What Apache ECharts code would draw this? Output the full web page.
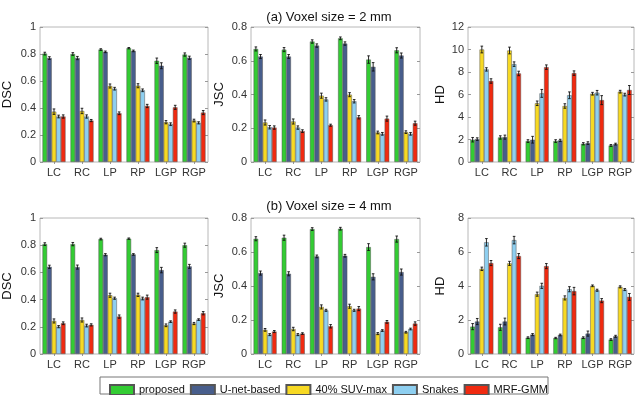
<!DOCTYPE html>
<html>
<head>
<meta charset="utf-8">
<script src="https://cdn.jsdelivr.net/npm/echarts@6/dist/echarts.min.js"></script>
<style>
  html, body { margin: 0; padding: 0; background: #fff; }
  #chart { width: 640px; height: 395px; }
</style>
</head>
<body>
<div id="chart"></div>
<script>
// categories and methods
const categories = ['LC', 'RC', 'LP', 'RP', 'LGP', 'RGP']
const methods = ['proposed', 'U-net-based', '40% SUV-max', 'Snakes', 'MRF-GMM']
const colors = ['#33cc33', '#485e8c', '#f7d923', '#8ecff0', '#f02a10']

// (a) voxel size 2 mm — rows follow methods order
const dsc2mm = [
  [0.803, 0.800, 0.833, 0.843, 0.750, 0.796],
  [0.770, 0.770, 0.816, 0.823, 0.713, 0.772],
  [0.373, 0.378, 0.563, 0.565, 0.295, 0.307],
  [0.337, 0.337, 0.543, 0.531, 0.280, 0.290],
  [0.337, 0.307, 0.361, 0.415, 0.405, 0.366]
]
const dsc2mmErr = [
  [0.010, 0.010, 0.006, 0.005, 0.020, 0.012],
  [0.010, 0.012, 0.006, 0.006, 0.022, 0.012],
  [0.020, 0.020, 0.015, 0.015, 0.012, 0.010],
  [0.010, 0.012, 0.010, 0.010, 0.010, 0.008],
  [0.012, 0.008, 0.010, 0.012, 0.015, 0.015]
]
const jsc2mm = [
  [0.670, 0.666, 0.714, 0.733, 0.607, 0.662],
  [0.625, 0.625, 0.690, 0.702, 0.564, 0.631],
  [0.234, 0.240, 0.393, 0.399, 0.175, 0.177],
  [0.206, 0.204, 0.371, 0.360, 0.167, 0.167],
  [0.204, 0.183, 0.218, 0.265, 0.257, 0.230]
]
const jsc2mmErr = [
  [0.012, 0.012, 0.010, 0.008, 0.022, 0.015],
  [0.012, 0.012, 0.010, 0.010, 0.025, 0.015],
  [0.015, 0.015, 0.015, 0.012, 0.008, 0.008],
  [0.010, 0.010, 0.010, 0.010, 0.008, 0.008],
  [0.010, 0.008, 0.006, 0.010, 0.015, 0.012]
]
const hd2mm = [
  [1.98, 2.18, 1.86, 1.86, 1.62, 1.47],
  [2.03, 2.21, 1.98, 1.92, 1.68, 1.59],
  [10.0, 9.91, 5.22, 4.98, 6.07, 6.25],
  [8.23, 8.70, 6.10, 5.93, 6.16, 5.99],
  [7.20, 7.87, 8.43, 7.90, 5.50, 6.40]
]
const hd2mmErr = [
  [0.20, 0.15, 0.12, 0.12, 0.10, 0.08],
  [0.12, 0.18, 0.30, 0.10, 0.12, 0.08],
  [0.30, 0.30, 0.20, 0.20, 0.12, 0.12],
  [0.15, 0.20, 0.35, 0.30, 0.20, 0.12],
  [0.20, 0.20, 0.20, 0.20, 0.40, 0.40]
]

// (b) voxel size 4 mm
const dsc4mm = [
  [0.808, 0.808, 0.845, 0.848, 0.764, 0.800],
  [0.641, 0.639, 0.730, 0.732, 0.617, 0.644],
  [0.243, 0.250, 0.432, 0.435, 0.211, 0.224],
  [0.201, 0.209, 0.410, 0.408, 0.238, 0.253],
  [0.226, 0.214, 0.275, 0.418, 0.312, 0.300]
]
const dsc4mmErr = [
  [0.010, 0.012, 0.006, 0.005, 0.018, 0.015],
  [0.012, 0.015, 0.008, 0.006, 0.020, 0.015],
  [0.015, 0.015, 0.015, 0.012, 0.010, 0.008],
  [0.008, 0.010, 0.008, 0.010, 0.006, 0.006],
  [0.010, 0.008, 0.012, 0.015, 0.012, 0.012]
]
const jsc4mm = [
  [0.678, 0.684, 0.735, 0.737, 0.629, 0.676],
  [0.476, 0.472, 0.574, 0.578, 0.454, 0.482],
  [0.142, 0.147, 0.277, 0.281, 0.120, 0.128],
  [0.114, 0.114, 0.257, 0.257, 0.138, 0.147],
  [0.132, 0.120, 0.163, 0.267, 0.189, 0.179]
]
const jsc4mmErr = [
  [0.012, 0.015, 0.008, 0.008, 0.020, 0.018],
  [0.012, 0.012, 0.008, 0.008, 0.018, 0.018],
  [0.008, 0.010, 0.012, 0.012, 0.006, 0.005],
  [0.006, 0.006, 0.006, 0.006, 0.005, 0.005],
  [0.006, 0.005, 0.010, 0.012, 0.008, 0.010]
]
const hd4mm = [
  [1.61, 1.57, 0.96, 0.94, 0.96, 0.85],
  [1.91, 1.91, 1.14, 1.12, 1.20, 1.04],
  [5.01, 5.33, 3.52, 3.30, 4.01, 3.95],
  [6.57, 6.70, 4.01, 3.81, 3.75, 3.79],
  [5.35, 5.76, 5.17, 3.70, 3.14, 3.36]
]
const hd4mmErr = [
  [0.18, 0.18, 0.05, 0.04, 0.05, 0.05],
  [0.18, 0.20, 0.06, 0.05, 0.15, 0.06],
  [0.10, 0.12, 0.12, 0.12, 0.05, 0.06],
  [0.22, 0.22, 0.15, 0.15, 0.06, 0.06],
  [0.15, 0.15, 0.15, 0.22, 0.12, 0.20]
]

const FONT = '"Liberation Sans", Arial, sans-serif'
const BAR_W = 4.6

// panel layout
const panels = [
  { name: 'DSC', vals: dsc2mm, errs: dsc2mmErr, max: 1, step: 0.2, grid: { left: 35, top: 27, width: 173, height: 135 }, nameGap: 26 },
  { name: 'JSC', vals: jsc2mm, errs: jsc2mmErr, max: 0.8, step: 0.2, grid: { left: 251, top: 27, width: 169, height: 135 }, nameGap: 25 },
  { name: 'HD', vals: hd2mm, errs: hd2mmErr, max: 12, step: 2, grid: { left: 468, top: 27, width: 166, height: 135 }, nameGap: 21 },
  { name: 'DSC', vals: dsc4mm, errs: dsc4mmErr, max: 1, step: 0.2, grid: { left: 35, top: 218, width: 173, height: 136 }, nameGap: 26 },
  { name: 'JSC', vals: jsc4mm, errs: jsc4mmErr, max: 0.8, step: 0.2, grid: { left: 251, top: 218, width: 169, height: 136 }, nameGap: 25 },
  { name: 'HD', vals: hd4mm, errs: hd4mmErr, max: 8, step: 2, grid: { left: 468, top: 218, width: 166, height: 136 }, nameGap: 21 }
]

const grids = []
const xAxes = []
const yAxes = []
const series = []

panels.forEach((p, i) => {
  grids.push(Object.assign({ show: true, borderColor: '#b8b8b8', borderWidth: 1, backgroundColor: '#fff' }, p.grid))

  // bottom category axis
  xAxes.push({
    type: 'category', gridIndex: i, data: categories,
    axisLine: { show: false },
    axisTick: { show: true, inside: true, alignWithLabel: true, interval: 0, length: 2, lineStyle: { color: '#999' } },
    axisLabel: { color: '#333', fontSize: 11, fontFamily: FONT, margin: 5, interval: 0 }
  })
  // top copy, ticks only
  xAxes.push({
    type: 'category', gridIndex: i, data: categories, position: 'top',
    axisLine: { show: false },
    axisTick: { show: true, inside: true, alignWithLabel: true, interval: 0, length: 2, lineStyle: { color: '#999' } },
    axisLabel: { show: false }
  })
  yAxes.push({
    type: 'value', gridIndex: i, min: 0, max: p.max, interval: p.step,
    name: p.name, nameLocation: 'middle', nameGap: p.nameGap,
    nameTextStyle: { color: '#111', fontSize: 13, fontFamily: FONT },
    axisLine: { show: false },
    axisTick: { show: true, inside: true, length: 3, lineStyle: { color: '#999' } },
    axisLabel: { color: '#333', fontSize: 11, fontFamily: FONT, margin: 4 },
    splitLine: { show: false }
  })
  // right copy, ticks only
  yAxes.push({
    type: 'value', gridIndex: i, min: 0, max: p.max, interval: p.step, position: 'right',
    axisLine: { show: false },
    axisTick: { show: true, inside: true, length: 3, lineStyle: { color: '#999' } },
    axisLabel: { show: false },
    splitLine: { show: false }
  })

  const xi = i * 2
  const yi = i * 2

  methods.forEach((m, k) => {
    series.push({
      name: m, type: 'bar', xAxisIndex: xi, yAxisIndex: yi,
      data: p.vals[k],
      barWidth: BAR_W, barGap: '0%',
      itemStyle: { color: colors[k], borderColor: '#555', borderWidth: 0.5 },
      emphasis: { disabled: true },
      animation: false
    })
  })

  // error bars
  methods.forEach((m, k) => {
    const data = categories.map((c, j) => [j, p.vals[k][j] - p.errs[k][j], p.vals[k][j] + p.errs[k][j]])
    series.push({
      type: 'custom', xAxisIndex: xi, yAxisIndex: yi,
      data: data, z: 10, silent: true, animation: false,
      encode: { x: 0, y: [1, 2] },
      renderItem: (params, api) => {
        const lo = api.coord([api.value(0), api.value(1)])
        const hi = api.coord([api.value(0), api.value(2)])
        const x = lo[0] + (k - 2) * BAR_W
        const cap = 1.3
        const style = { stroke: '#111', lineWidth: 0.9 }
        return {
          type: 'group',
          children: [
            { type: 'line', shape: { x1: x, y1: lo[1], x2: x, y2: hi[1] }, style },
            { type: 'line', shape: { x1: x - cap, y1: lo[1], x2: x + cap, y2: lo[1] }, style },
            { type: 'line', shape: { x1: x - cap, y1: hi[1], x2: x + cap, y2: hi[1] }, style }
          ]
        }
      }
    })
  })
})

const chart = echarts.init(document.getElementById('chart'), null, { renderer: 'canvas' })

chart.setOption({
  backgroundColor: '#fff',
  animation: false,
  title: [
    { text: '(a) Voxel size = 2 mm', left: 324, top: 6, textAlign: 'center',
      textStyle: { fontSize: 13, fontWeight: 'normal', color: '#111', fontFamily: FONT } },
    { text: '(b) Voxel size = 4 mm', left: 324, top: 195, textAlign: 'center',
      textStyle: { fontSize: 13, fontWeight: 'normal', color: '#111', fontFamily: FONT } }
  ],
  legend: {
    data: methods, left: 104, top: 379, itemWidth: 24, itemHeight: 10, itemGap: 5,
    icon: 'rect', selectedMode: false,
    textStyle: { fontSize: 11, color: '#111', fontFamily: FONT }
  },
  graphic: [
    { type: 'rect', shape: { x: 100, y: 377, width: 448, height: 17 },
      style: { fill: 'none', stroke: '#777', lineWidth: 1 }, silent: true }
  ],
  grid: grids,
  xAxis: xAxes,
  yAxis: yAxes,
  series: series
})
</script>
</body>
</html>
